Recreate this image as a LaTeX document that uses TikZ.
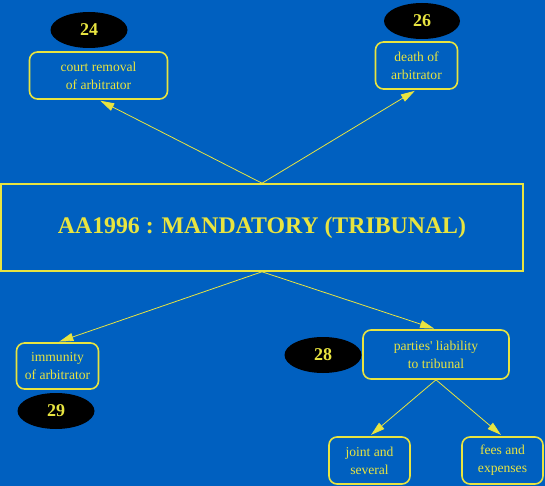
\documentclass[tikz,border=0pt]{standalone}
\usepackage{fontspec}
\setmainfont{Liberation Serif}
\usetikzlibrary{arrows.meta,shapes.geometric}
\definecolor{bg}{RGB}{0,96,192}
\definecolor{yel}{RGB}{232,228,64}
\tikzset{
  topic/.style={draw=yel, line width=1.6pt, rounded corners=8pt, text=yel,
    align=center, inner sep=0pt, font=\fontsize{13.6}{18}\selectfont},
  num/.style={ellipse, fill=black, text=yel, inner sep=0pt,
    font=\fontsize{18}{18}\selectfont\bfseries},
  link/.style={draw=yel, line width=0.8pt, -{Triangle[length=14pt,width=8pt]}, shorten >=2pt}
}
\begin{document}
\begin{tikzpicture}[x=1pt,y=-1pt]
\fill[bg] (0,0) rectangle (545,486);
\useasboundingbox (0,0) rectangle (545,486);
\node[draw=yel, line width=1.6pt, minimum width=522pt, minimum height=87pt, inner sep=0pt,
  text=yel, font=\fontsize{23.8}{26}\selectfont\bfseries] (main) at (262,227.5) {AA1996 : MANDATORY (TRIBUNAL)};
\node[topic, minimum width=138pt, minimum height=47pt] (court) at (98.5,75.5) {court removal\\of arbitrator};
\node[topic, minimum width=82pt, minimum height=47pt] (death) at (416.5,65.5) {death of\\arbitrator};
\node[topic, minimum width=82pt, minimum height=46pt] (immun) at (57.5,366) {immunity\\of arbitrator};
\node[topic, minimum width=146pt, minimum height=49pt] (parties) at (436,354.5) {parties\textquotesingle\ liability\\to tribunal};
\node[topic, minimum width=81pt, minimum height=47pt] (joint) at (369.5,460.5) {joint and\\several};
\node[topic, minimum width=81pt, minimum height=47pt] (fees) at (502.5,460.5) {fees and\\expenses};
\node[num, minimum width=77pt, minimum height=36pt] (n24) at (89,30) {24};
\node[num, minimum width=76pt, minimum height=36pt] (n26) at (422,21) {26};
\node[num, minimum width=77pt, minimum height=36pt] (n28) at (323,355) {28};
\node[num, minimum width=77pt, minimum height=36pt] (n29) at (56,411) {29};
\draw[link] (main.north) -- (court.south);
\draw[link] (main.north) -- (death.south);
\draw[link] (main.south) -- (immun.north);
\draw[link] (main.south) -- (parties.north);
\draw[link] (parties.south) -- (joint.north);
\draw[link] (parties.south) -- (fees.north);
\end{tikzpicture}
\end{document}
